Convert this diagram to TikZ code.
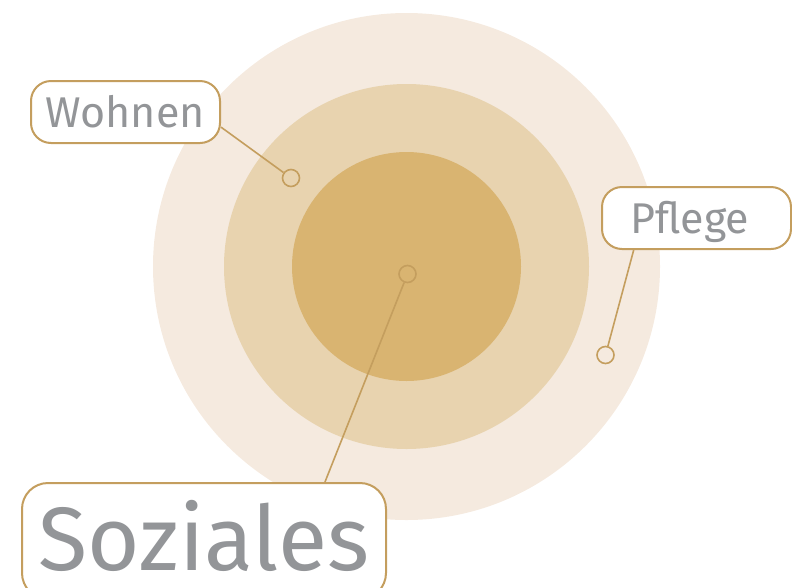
\documentclass[tikz,border=0pt]{standalone}
\usepackage{fontspec}
\setmainfont{Fira Sans}
\definecolor{ringA}{HTML}{F5EADF}
\definecolor{ringB}{HTML}{E8D3AF}
\definecolor{ringC}{HTML}{D9B471}
\definecolor{gold}{HTML}{C49E5E}
\definecolor{txt}{HTML}{939598}
\begin{document}
\begin{tikzpicture}[x=1pt,y=-1pt,
  labelbox/.style={draw=gold,line width=2pt,fill=white,rounded corners=20pt,inner sep=0pt},
  labeltext/.style={text=txt,inner sep=0pt,anchor=base},
  dot/.style={circle,draw=gold,line width=1.6pt,minimum size=17pt,inner sep=0pt},
  link/.style={draw=gold,line width=1.6pt}]
\useasboundingbox (0,0) rectangle (792,587);
\clip (0,0) rectangle (792,587);
\fill[ringA] (406.5,266.5) circle[radius=253.5];
\fill[ringB] (406.5,266.5) circle[radius=182.5];
\fill[ringC] (406.5,266.5) circle[radius=114.5];
\node[dot] (wdot) at (291,178) {};
\node[dot] (pdot) at (605.5,355) {};
\node[dot] (sdot) at (407.5,274) {};
\node[labelbox,minimum width=189pt,minimum height=62pt] (wbox) at (125.5,112) {};
\node[labelbox,minimum width=189pt,minimum height=62pt] (pbox) at (696.5,218) {};
\node[labelbox,rounded corners=26pt,minimum width=364pt,minimum height=116pt] (sbox) at (204,541) {};
\node[labeltext,font=\fontsize{43}{43}\selectfont] (wtext) at (125,127) {Wohnen};
\node[labeltext,font=\fontsize{43}{43}\selectfont] (ptext) at (690,233) {Pflege};
\node[labeltext,font=\fontsize{90}{90}\selectfont] (stext) at (204,570) {Soziales};
\draw[link] (wbox.-9) -- (wdot);
\draw[link] (pbox.207) -- (pdot);
\draw[link] (sbox.26) -- (sdot);
\end{tikzpicture}
\end{document}
